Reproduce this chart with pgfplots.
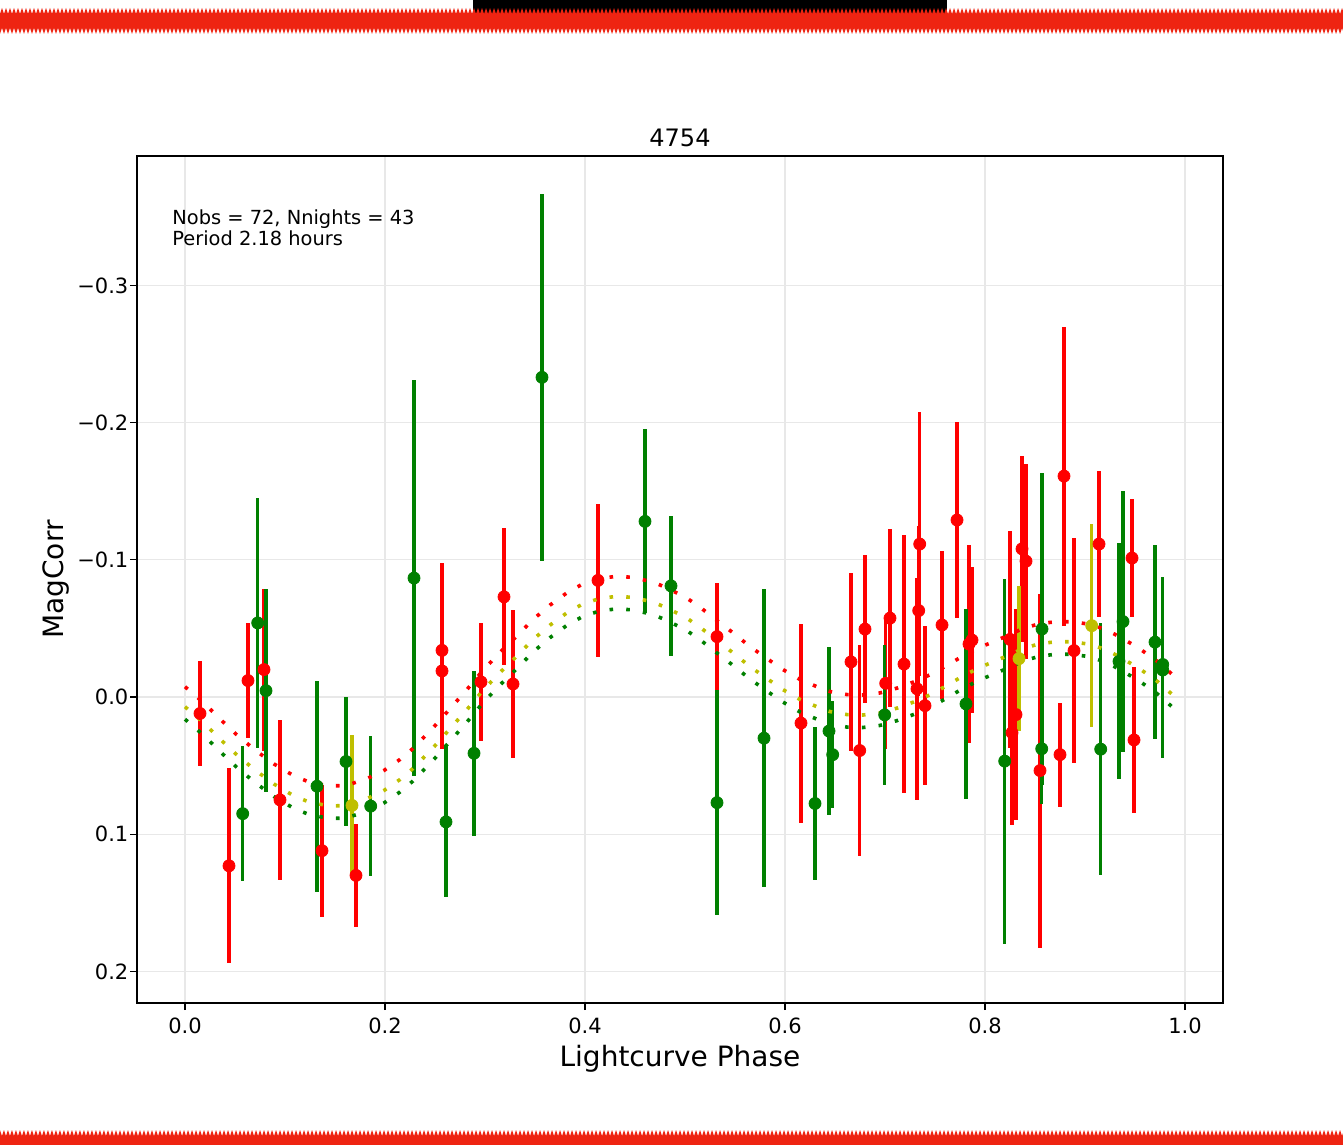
\documentclass[border=0pt]{standalone}
\usepackage{fontspec}
\setmainfont{DejaVu Sans}
\usepackage{pgfplots}
\usepackage{pgfplotstable}
\pgfplotsset{compat=1.18}
\usetikzlibrary{decorations.pathmorphing}
\definecolor{mred}{RGB}{255,0,0}
\definecolor{mgreen}{RGB}{0,128,0}
\definecolor{myel}{RGB}{191,191,0}
\definecolor{deco}{RGB}{238,36,18}
\definecolor{gridc}{RGB}{232,232,232}

\pgfplotstableread{
x y e
0.015 0.012 0.038
0.044 0.123 0.071
0.063 -0.012 0.042
0.079 -0.020 0.059
0.095 0.075 0.058
0.137 0.112 0.048
0.171 0.130 0.0375
0.257 -0.034 0.064
0.257 -0.019 0.057
0.296 -0.011 0.043
0.319 -0.073 0.050
0.328 -0.0095 0.054
0.413 -0.085 0.056
0.532 -0.044 0.039
0.616 0.019 0.0725
0.666 -0.0256 0.065
0.6747 0.039 0.0766
0.680 -0.0495 0.054
0.7007 -0.010 0.048
0.705 -0.0575 0.065
0.719 -0.024 0.094
0.7347 -0.1115 0.096
0.7337 -0.063 0.062
0.732 -0.006 0.081
0.740 0.0063 0.058
0.757 -0.0525 0.054
0.772 -0.129 0.0715
0.784 -0.0386 0.072
0.787 -0.0415 0.053
0.825 -0.042 0.079
0.831 0.0128 0.077
0.827 0.026 0.067
0.837 -0.108 0.068
0.841 -0.099 0.071
0.855 0.0536 0.129
0.875 0.042 0.038
0.879 -0.161 0.109
0.889 -0.0338 0.082
0.914 -0.1115 0.053
0.947 -0.1013 0.043
0.949 0.0313 0.053
}\redtab

\pgfplotstableread{
x y e
0.0577 0.085 0.049
0.0727 -0.054 0.091
0.081 -0.0046 0.074
0.132 0.065 0.077
0.161 0.047 0.047
0.1857 0.0795 0.051
0.229 -0.0867 0.144
0.261 0.091 0.055
0.289 0.041 0.060
0.357 -0.233 0.1335
0.460 -0.128 0.067
0.486 -0.081 0.051
0.532 0.077 0.082
0.579 0.030 0.1085
0.630 0.0776 0.0556
0.644 0.0248 0.061
0.6477 0.042 0.039
0.6997 0.013 0.051
0.781 0.005 0.069
0.8197 0.0467 0.133
0.857 -0.0496 0.114
0.8567 0.0377 0.040
0.9157 0.038 0.092
0.934 -0.026 0.086
0.938 -0.055 0.095
0.970 -0.040 0.0705
0.9777 -0.0237 0.064
0.9777 -0.0197 0.064
}\greentab

\pgfplotstableread{
x y e
0.167 0.079 0.051
0.834 -0.028 0.053
0.9067 -0.052 0.074
}\yeltab

\pgfplotstableread{
x r yl g
0.000 -0.0075 0.0071 0.0162
0.019 0.0044 0.0190 0.0281
0.035 0.0160 0.0306 0.0397
0.052 0.0277 0.0423 0.0514
0.070 0.0386 0.0532 0.0623
0.089 0.0488 0.0634 0.0725
0.109 0.0575 0.0721 0.0812
0.125 0.0622 0.0768 0.0859
0.145 0.0648 0.0794 0.0885
0.161 0.0645 0.0791 0.0882
0.182 0.0595 0.0741 0.0832
0.199 0.0535 0.0681 0.0772
0.215 0.0455 0.0601 0.0692
0.228 0.0375 0.0521 0.0612
0.248 0.0225 0.0371 0.0462
0.265 0.0085 0.0231 0.0322
0.282 -0.0055 0.0091 0.0182
0.298 -0.0195 -0.0049 0.0042
0.315 -0.0325 -0.0179 -0.0088
0.332 -0.0445 -0.0299 -0.0208
0.348 -0.0565 -0.0419 -0.0328
0.365 -0.0670 -0.0524 -0.0433
0.382 -0.0760 -0.0614 -0.0523
0.398 -0.0825 -0.0679 -0.0588
0.415 -0.0865 -0.0719 -0.0628
0.432 -0.0880 -0.0734 -0.0643
0.448 -0.0872 -0.0726 -0.0635
0.468 -0.0838 -0.0692 -0.0601
0.482 -0.0795 -0.0649 -0.0558
0.502 -0.0720 -0.0574 -0.0483
0.515 -0.0655 -0.0509 -0.0418
0.528 -0.0580 -0.0434 -0.0343
0.548 -0.0468 -0.0322 -0.0231
0.565 -0.0368 -0.0222 -0.0131
0.582 -0.0280 -0.0134 -0.0043
0.598 -0.0200 -0.0054 0.0037
0.615 -0.0128 0.0018 0.0109
0.633 -0.0072 0.0074 0.0165
0.645 -0.0040 0.0106 0.0197
0.662 -0.0018 0.0128 0.0219
0.678 -0.0015 0.0131 0.0222
0.695 -0.0030 0.0116 0.0207
0.712 -0.0065 0.0081 0.0172
0.728 -0.0108 0.0038 0.0129
0.745 -0.0162 -0.0016 0.0075
0.762 -0.0230 -0.0084 0.0007
0.778 -0.0300 -0.0154 -0.0063
0.795 -0.0362 -0.0216 -0.0125
0.812 -0.0415 -0.0269 -0.0178
0.822 -0.0445 -0.0299 -0.0208
0.838 -0.0500 -0.0354 -0.0263
0.855 -0.0535 -0.0389 -0.0298
0.872 -0.0550 -0.0404 -0.0313
0.888 -0.0548 -0.0402 -0.0311
0.905 -0.0530 -0.0384 -0.0293
0.922 -0.0488 -0.0342 -0.0251
0.938 -0.0425 -0.0279 -0.0188
0.955 -0.0350 -0.0204 -0.0113
0.972 -0.0262 -0.0116 -0.0025
0.988 -0.0160 -0.0014 0.0077
}\fittab

\begin{document}
\begin{tikzpicture}
\path[use as bounding box] (-68.5pt,-71pt) rectangle (603pt,501.5pt);
% decorative torn bands
\fill[black] (168pt,494pt) rectangle (405pt,502pt);
\fill[deco, decorate, decoration={zigzag, segment length=2pt, amplitude=1.5pt}] (-80pt,486pt) rectangle (615pt,496pt);
\fill[deco, decorate, decoration={zigzag, segment length=2pt, amplitude=1.5pt}] (-80pt,-80pt) rectangle (615pt,-65pt);
\begin{axis}[
  at={(0pt,0pt)}, anchor=south west,
  scale only axis, width=543pt, height=423.5pt,
  xmin=-0.048, xmax=1.038, ymin=-0.3943, ymax=0.223,
  y dir=reverse,
  axis line style={black, line width=0.6pt},
  tick align=outside, xtick pos=left, ytick pos=left,
  major tick length=3.5pt,
  every tick/.style={black, line width=0.6pt},
  xtick={0,0.2,0.4,0.6,0.8,1.0},
  xticklabels={0.0,0.2,0.4,0.6,0.8,1.0},
  ytick={-0.3,-0.2,-0.1,0,0.1,0.2},
  yticklabels={−0.3,−0.2,−0.1,0.0,0.1,0.2},
  ticklabel style={font=\fontsize{10.5}{12}\selectfont},
  xticklabel style={inner sep=0pt, anchor=north, yshift=-3.85pt},
  yticklabel style={inner sep=0pt, anchor=east, xshift=-0.65pt},
  grid=major,
  major grid style={gridc, line width=0.6pt},
  clip=false,
]
\addplot[only marks, mark=*, mark size=3pt, color=mred,
  error bars/.cd, y dir=both, y explicit, error mark=none,
  error bar style={line width=1.7pt, mred}]
  table[x=x, y=y, y error=e] {\redtab};
\addplot[only marks, mark=*, mark size=3pt, color=mgreen,
  error bars/.cd, y dir=both, y explicit, error mark=none,
  error bar style={line width=1.7pt, mgreen}]
  table[x=x, y=y, y error=e] {\greentab};
\addplot[only marks, mark=*, mark size=3pt, color=myel,
  error bars/.cd, y dir=both, y explicit, error mark=none,
  error bar style={line width=1.7pt, myel}]
  table[x=x, y=y, y error=e] {\yeltab};
\addplot[mred, line width=1.8pt, dash pattern=on 1.8pt off 6.6pt] table[x=x, y=r] {\fittab};
\addplot[myel, line width=1.8pt, dash pattern=on 1.8pt off 6.6pt] table[x=x, y=yl] {\fittab};
\addplot[mgreen, line width=1.8pt, dash pattern=on 1.8pt off 6.6pt] table[x=x, y=g] {\fittab};
\node[anchor=north west, inner sep=0pt, align=left, font=\fontsize{9.7}{10.7}\selectfont]
  at (rel axis cs:0.0322,0.9374) {Nobs = 72, Nnights = 43\\Period 2.18 hours};
\node[anchor=base, inner sep=0pt, font=\fontsize{12}{14}\selectfont, yshift=5pt]
  at (rel axis cs:0.5,1) {4754};
\node[anchor=base, inner sep=0pt, font=\fontsize{14}{16}\selectfont, yshift=-31.5pt]
  at (rel axis cs:0.5,0) {Lightcurve Phase};
\node[xshift=-36.5pt, rotate=90, anchor=base, inner sep=0pt, font=\fontsize{14}{16}\selectfont]
  at (rel axis cs:0,0.5) {MagCorr};
\end{axis}
\end{tikzpicture}
\end{document}
